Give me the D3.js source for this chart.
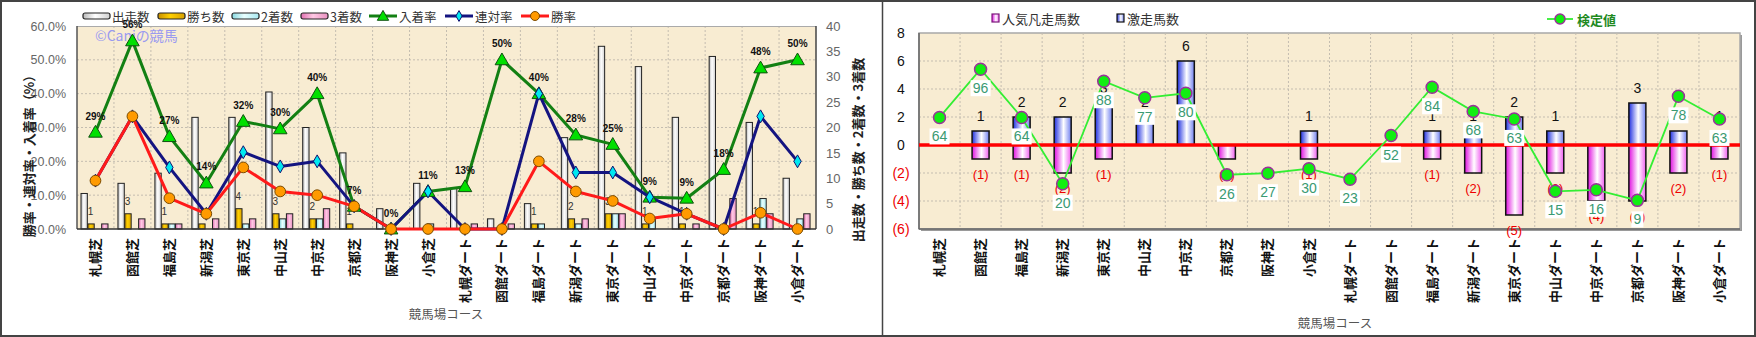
<!DOCTYPE html>
<html>
<head>
<meta charset="utf-8">
<script src="https://cdn.jsdelivr.net/npm/d3@7"></script>
<style>
body { margin: 0; background: #fff; }
svg { display: block; font-family: "Noto Sans CJK JP", "Liberation Sans", sans-serif; }
</style>
</head>
<body>
<div id="chart"></div>
<script>
// コース
var courses = ["札幌芝","函館芝","福島芝","新潟芝","東京芝","中山芝","中京芝","京都芝","阪神芝","小倉芝",
               "札幌ダート","函館ダート","福島ダート","新潟ダート","東京ダート","中山ダート","中京ダート","京都ダート","阪神ダート","小倉ダート"];

// 左グラフ: 件数
var starters = [7, 9, 11, 22, 22, 27, 20, 15, 4, 9, 8, 2, 5, 18, 36, 32, 22, 34, 21, 10];
var wins     = [1, 3, 1, 1, 4, 3, 2, 1, 0, 0, 0, 0, 1, 2, 3, 1, 1, 0, 1, 0];
var seconds  = [0, 0, 1, 0, 1, 2, 2, 0, 0, 1, 0, 0, 1, 1, 3, 2, 0, 0, 6, 2];
var thirds   = [1, 2, 1, 2, 2, 3, 4, 0, 0, 0, 1, 1, 0, 2, 3, 0, 1, 6, 3, 3];

// 左グラフ: 率(%)
var placeRate    = [28.6, 55.6, 27.3, 13.6, 31.8, 29.6, 40, 6.7, 0, 11.1, 12.5, 50, 40, 27.8, 25, 9.4, 9.1, 17.6, 47.6, 50];
var quinellaRate = [14.3, 33.3, 18.2, 4.5, 22.7, 18.5, 20, 6.7, 0, 11.1, 0, 0, 40, 16.7, 16.7, 9.4, 4.5, 0, 33.3, 20];
var winRate      = [14.3, 33.3, 9.1, 4.5, 18.2, 11.1, 10, 6.7, 0, 0, 0, 0, 20, 11.1, 8.3, 3.1, 4.5, 0, 4.8, 0];

// 右グラフ
var upsetCount = [0, 1, 2, 2, 3, 2, 6, 0, 0, 1, 0, 0, 1, 1, 2, 1, 0, 3, 1, 1];   // 激走馬数
var flopCount  = [0, 1, 1, 2, 1, 0, 0, 1, 0, 1, 0, 0, 1, 2, 5, 2, 4, 4, 2, 1];   // 人気凡走馬数
var testValue  = [64, 96, 64, 20, 88, 77, 80, 26, 27, 30, 23, 52, 84, 68, 63, 15, 16, 9, 78, 63]; // 検定値

var rateTicks  = [0, 10, 20, 30, 40, 50, 60];
var countTicks = [0, 5, 10, 15, 20, 25, 30, 35, 40];
var scoreTicks = [-6, -4, -2, 0, 2, 4, 6, 8];

var width = 1756, height = 337;
var bg_color = "#f8ecd2";
var grid_color = "#c4bdb0";

var svg = d3.select("#chart").append("svg")
	.attr("width", width)
	.attr("height", height);

var defs = svg.append("defs");
function grad(id, stops) {
	var g = defs.append("linearGradient").attr("id", id)
		.attr("x1", "0").attr("x2", "1").attr("y1", "0").attr("y2", "0");
	stops.forEach(function(s) {
		g.append("stop").attr("offset", s[0]).attr("stop-color", s[1]);
	});
}
grad("gRun",   [[0, "#b8b8b8"], [0.45, "#ffffff"], [1, "#d0d0d0"]]);
grad("gWin",   [[0, "#c89000"], [0.45, "#ffd000"], [1, "#d8a000"]]);
grad("gSec",   [[0, "#88d8e0"], [0.45, "#e8ffff"], [1, "#a8e8f0"]]);
grad("gThird", [[0, "#e070b0"], [0.45, "#ffc8e4"], [1, "#e890c0"]]);
grad("gUpset", [[0, "#2030e0"], [0.55, "#ffffff"], [1, "#7080f0"]]);
grad("gFlop",  [[0, "#e010e0"], [0.55, "#ffffff"], [1, "#f060f0"]]);

// 添字つきで 0 より大きいものだけ
function nonZero(arr) {
	return arr.map(function(v, i) { return {i: i, v: v}; }).filter(function(d) { return d.v > 0; });
}

// 外枠
svg.append("rect").attr("x", 1).attr("y", 1).attr("width", width - 2).attr("height", height - 2)
	.attr("fill", "none").attr("stroke", "#444").attr("stroke-width", 2);
svg.append("line").attr("x1", 882.5).attr("x2", 882.5).attr("y1", 0).attr("y2", height)
	.attr("stroke", "#444").attr("stroke-width", 1.5);

// ================= 左グラフ =================
var L = {x0: 77, x1: 816, y0: 26, y1: 229};
var xL = d3.scaleBand().domain(courses).range([L.x0, L.x1]);
var series = ["出走数", "勝ち数", "2着数", "3着数"];
var seriesData = [starters, wins, seconds, thirds];
var seriesGrad = ["gRun", "gWin", "gSec", "gThird"];
var xSub = d3.scaleBand().domain(series).range([4, 31]).paddingInner(0.08);
var yRate = d3.scaleLinear().domain([0, 60]).range([L.y1, L.y0]);
var yCount = d3.scaleLinear().domain([0, 40]).range([L.y1, L.y0]);

var left = svg.append("g");
left.append("rect").attr("x", L.x0).attr("y", L.y0).attr("width", L.x1 - L.x0).attr("height", L.y1 - L.y0)
	.attr("fill", bg_color);

left.append("g").selectAll("line")
	.data(rateTicks.slice(1, -1))
	.enter().append("line")
	.attr("x1", L.x0).attr("x2", L.x1)
	.attr("y1", function(d) { return yRate(d); }).attr("y2", function(d) { return yRate(d); })
	.attr("stroke", grid_color).attr("stroke-dasharray", "2,2");
left.append("g").selectAll("line")
	.data(courses.slice(1))
	.enter().append("line")
	.attr("x1", function(d) { return xL(d); }).attr("x2", function(d) { return xL(d); })
	.attr("y1", L.y0).attr("y2", L.y1)
	.attr("stroke", grid_color).attr("stroke-dasharray", "2,2");

left.append("text").attr("x", 95).attr("y", 41)
	.attr("font-size", 14).attr("fill", "#9a9af0")
	.text("©Caniの競馬");

// 棒
series.forEach(function(s, si) {
	left.append("g").selectAll("rect")
		.data(nonZero(seriesData[si]))
		.enter().append("rect")
		.attr("x", function(d) { return xL(courses[d.i]) + xSub(s); })
		.attr("y", function(d) { return yCount(d.v); })
		.attr("width", xSub.bandwidth())
		.attr("height", function(d) { return yCount(0) - yCount(d.v); })
		.attr("fill", "url(#" + seriesGrad[si] + ")")
		.attr("stroke", "#222").attr("stroke-width", 1);
});

// 勝ち数ラベル
left.append("g").selectAll("text")
	.data(nonZero(wins))
	.enter().append("text")
	.attr("x", function(d) { return xL(courses[d.i]) + 13.5; })
	.attr("y", function(d) { return yCount(d.v) - 8.5; })
	.attr("text-anchor", "middle")
	.attr("font-family", "Liberation Sans")
	.attr("font-size", 10).attr("fill", "#333")
	.text(function(d) { return d.v; });

// 軸線
left.append("line").attr("x1", L.x0).attr("x2", L.x1).attr("y1", L.y0 + 0.5).attr("y2", L.y0 + 0.5).attr("stroke", "#aaa");
left.append("line").attr("x1", L.x0).attr("x2", L.x0).attr("y1", L.y0).attr("y2", L.y1).attr("stroke", "#555").attr("stroke-width", 1.5);
left.append("line").attr("x1", L.x1).attr("x2", L.x1).attr("y1", L.y0).attr("y2", L.y1).attr("stroke", "#444").attr("stroke-width", 1.5);
left.append("line").attr("x1", L.x0).attr("x2", L.x1).attr("y1", L.y1).attr("y2", L.y1).attr("stroke", "#333").attr("stroke-width", 1.5);

// 折れ線
function cx(i) { return xL(courses[i]) + xL.bandwidth() / 2; }
var lineDefs = [
	{data: placeRate,    color: "#138013", fill: "#00e000", stroke: "#105010", sym: d3.symbolTriangle, size: 80},
	{data: quinellaRate, color: "#141480", fill: "#00e8f0", stroke: "#101070", sym: d3.symbolDiamond,  size: 48},
	{data: winRate,      color: "#ff1a1a", fill: "#ff9a00", stroke: "#7a4a00", sym: d3.symbolCircle,   size: 90}
];
lineDefs.forEach(function(ld) {
	left.append("path")
		.datum(ld.data)
		.attr("d", d3.line().x(function(d, i) { return cx(i); }).y(function(d) { return yRate(d); }))
		.attr("fill", "none").attr("stroke", ld.color).attr("stroke-width", 3)
		.attr("stroke-linejoin", "round");
});
lineDefs.forEach(function(ld) {
	left.append("g").selectAll("path")
		.data(ld.data)
		.enter().append("path")
		.attr("transform", function(d, i) { return "translate(" + cx(i) + "," + (yRate(d) + (ld.sym === d3.symbolTriangle ? 1 : 0)) + ")"; })
		.attr("d", d3.symbol().type(ld.sym).size(ld.size))
		.attr("fill", ld.fill).attr("stroke", ld.stroke).attr("stroke-width", 1);
});

// 入着率ラベル
left.append("g").selectAll("text")
	.data(placeRate)
	.enter().append("text")
	.attr("x", function(d, i) { return cx(i); })
	.attr("y", function(d) { return yRate(d) - 12.5; })
	.attr("text-anchor", "middle")
	.attr("font-family", "Liberation Sans").attr("font-weight", "bold")
	.attr("font-size", 10).attr("fill", "#111")
	.text(function(d) { return Math.round(d) + "%"; });

// 軸
var axL = left.append("g").attr("transform", "translate(" + L.x0 + ",0)")
	.call(d3.axisLeft(yRate).tickValues(rateTicks).tickSize(0).tickPadding(11)
		.tickFormat(function(d) { return d.toFixed(1) + "%"; }));
axL.select(".domain").remove();
axL.selectAll("text").attr("font-family", "Liberation Sans").attr("font-size", 12.5).attr("fill", "#666");

var axR = left.append("g").attr("transform", "translate(" + L.x1 + ",0)")
	.call(d3.axisRight(yCount).tickValues(countTicks).tickSize(0).tickPadding(10));
axR.select(".domain").remove();
axR.selectAll("text").attr("font-family", "Liberation Sans").attr("font-size", 13).attr("fill", "#666");

var axB = left.append("g").attr("transform", "translate(0," + L.y1 + ")")
	.call(d3.axisBottom(xL).tickSize(0));
axB.select(".domain").remove();
axB.selectAll("text")
	.attr("transform", "rotate(-90)")
	.attr("text-anchor", "end")
	.attr("x", -9).attr("y", 0).attr("dy", "0.35em")
	.attr("font-family", "Noto Sans CJK JP").attr("font-weight", "bold")
	.attr("font-size", 13).attr("fill", "#111");

left.append("text")
	.attr("transform", "translate(28,153) rotate(-90)")
	.attr("text-anchor", "middle").attr("dominant-baseline", "central")
	.attr("font-size", 13).attr("font-weight", "bold").attr("fill", "#222")
	.text("勝率・連対率・入着率（%）");
left.append("text")
	.attr("transform", "translate(857,150) rotate(-90)")
	.attr("text-anchor", "middle").attr("dominant-baseline", "central")
	.attr("font-size", 13).attr("font-weight", "bold").attr("fill", "#222")
	.text("出走数・勝ち数・2着数・3着数");
left.append("text")
	.attr("x", 446).attr("y", 313)
	.attr("text-anchor", "middle").attr("dominant-baseline", "central")
	.attr("font-size", 12.5).attr("fill", "#555")
	.text("競馬場コース");

// 凡例
var legL = [
	{name: "出走数", type: "bar", grad: "gRun", x: 83},
	{name: "勝ち数", type: "bar", grad: "gWin", x: 158},
	{name: "2着数", type: "bar", grad: "gSec", x: 232},
	{name: "3着数", type: "bar", grad: "gThird", x: 301},
	{name: "入着率", type: "line", ld: lineDefs[0], x: 369},
	{name: "連対率", type: "line", ld: lineDefs[1], x: 445},
	{name: "勝率", type: "line", ld: lineDefs[2], x: 521}
];
legL.forEach(function(it) {
	var g = left.append("g").attr("transform", "translate(" + it.x + ",16)");
	if (it.type === "bar") {
		g.append("rect").attr("x", 0).attr("y", -3).attr("width", 27).attr("height", 6).attr("rx", 2)
			.attr("fill", "url(#" + it.grad + ")").attr("stroke", "#222").attr("stroke-width", 1.2);
		g.append("text").attr("x", 29).attr("y", 0).attr("dominant-baseline", "central")
			.attr("font-size", 12.5).attr("fill", "#333").text(it.name);
	} else {
		g.append("line").attr("x1", 0).attr("x2", 28).attr("y1", 0).attr("y2", 0)
			.attr("stroke", it.ld.color).attr("stroke-width", 3);
		g.append("path").attr("transform", "translate(14," + (it.ld.sym === d3.symbolTriangle ? 1 : 0) + ")")
			.attr("d", d3.symbol().type(it.ld.sym).size(it.ld.size * 0.7))
			.attr("fill", it.ld.fill).attr("stroke", it.ld.stroke);
		g.append("text").attr("x", 30).attr("y", 0).attr("dominant-baseline", "central")
			.attr("font-size", 12.5).attr("fill", "#333").text(it.name);
	}
});

// ================= 右グラフ =================
var R = {x0: 919, x1: 1740, y0: 33, y1: 229};
var xR = d3.scaleBand().domain(courses).range([R.x0, R.x1]);
var yR = d3.scaleLinear().domain([-6, 8]).range([R.y1, R.y0]);
var yScore = d3.scaleLinear().domain([-10, 120]).range([R.y1, R.y0]);
var barW = 17;

var right = svg.append("g");
right.append("rect").attr("x", R.x0 + 2).attr("y", R.y0 + 2).attr("width", R.x1 - R.x0).attr("height", R.y1 - R.y0)
	.attr("fill", "#9a9a9a");
right.append("rect").attr("x", R.x0).attr("y", R.y0).attr("width", R.x1 - R.x0).attr("height", R.y1 - R.y0)
	.attr("fill", bg_color).attr("stroke", "#a8a8a8").attr("stroke-width", 1.5);

right.append("g").selectAll("line")
	.data(scoreTicks.slice(1, -1))
	.enter().append("line")
	.attr("x1", R.x0).attr("x2", R.x1)
	.attr("y1", function(d) { return yR(d); }).attr("y2", function(d) { return yR(d); })
	.attr("stroke", grid_color).attr("stroke-dasharray", "2,2");
right.append("g").selectAll("line")
	.data(courses.slice(1))
	.enter().append("line")
	.attr("x1", function(d) { return xR(d); }).attr("x2", function(d) { return xR(d); })
	.attr("y1", R.y0).attr("y2", R.y1)
	.attr("stroke", grid_color).attr("stroke-dasharray", "2,2");
right.append("line").attr("x1", R.x0).attr("x2", R.x0).attr("y1", R.y0).attr("y2", R.y1).attr("stroke", "#666").attr("stroke-width", 1.5);
right.append("line").attr("x1", R.x0).attr("x2", R.x1).attr("y1", R.y1).attr("y2", R.y1).attr("stroke", "#666").attr("stroke-width", 1.5);

function rx(i) { return xR(courses[i]) + (xR.bandwidth() - barW) / 2; }
function rc(i) { return xR(courses[i]) + xR.bandwidth() / 2; }

right.append("g").selectAll("rect")
	.data(nonZero(upsetCount))
	.enter().append("rect")
	.attr("x", function(d) { return rx(d.i); })
	.attr("y", function(d) { return yR(d.v); })
	.attr("width", barW)
	.attr("height", function(d) { return yR(0) - yR(d.v); })
	.attr("fill", "url(#gUpset)").attr("stroke", "#111").attr("stroke-width", 1.5);
right.append("g").selectAll("rect")
	.data(nonZero(flopCount))
	.enter().append("rect")
	.attr("x", function(d) { return rx(d.i); })
	.attr("y", yR(0))
	.attr("width", barW)
	.attr("height", function(d) { return yR(-d.v) - yR(0); })
	.attr("fill", "url(#gFlop)").attr("stroke", "#111").attr("stroke-width", 1.5);

right.append("line").attr("x1", R.x0).attr("x2", R.x1).attr("y1", yR(0)).attr("y2", yR(0))
	.attr("stroke", "#ff0000").attr("stroke-width", 3.5);

right.append("g").selectAll("text")
	.data(nonZero(upsetCount))
	.enter().append("text")
	.attr("x", function(d) { return rc(d.i); })
	.attr("y", function(d) { return yR(d.v) - 15; })
	.attr("text-anchor", "middle").attr("dominant-baseline", "central")
	.attr("font-family", "Liberation Sans").attr("font-size", 14).attr("fill", "#111")
	.text(function(d) { return d.v; });
right.append("g").selectAll("text")
	.data(nonZero(flopCount))
	.enter().append("text")
	.attr("x", function(d) { return rc(d.i); })
	.attr("y", function(d) { return yR(-d.v) + 15; })
	.attr("text-anchor", "middle").attr("dominant-baseline", "central")
	.attr("font-family", "Liberation Sans").attr("font-size", 13).attr("fill", "#ee0000")
	.text(function(d) { return "(" + d.v + ")"; });

right.append("path")
	.datum(testValue)
	.attr("d", d3.line().x(function(d, i) { return rc(i); }).y(function(d) { return yScore(d); }))
	.attr("fill", "none").attr("stroke", "#33ee33").attr("stroke-width", 1.8);
right.append("g").selectAll("circle")
	.data(testValue)
	.enter().append("circle")
	.attr("cx", function(d, i) { return rc(i); })
	.attr("cy", function(d) { return yScore(d); })
	.attr("r", 6)
	.attr("fill", "#11ee11").attr("stroke", "#993399").attr("stroke-width", 1.5);

var tv = right.append("g").selectAll("g")
	.data(testValue)
	.enter().append("g")
	.attr("transform", function(d, i) { return "translate(" + rc(i) + "," + (yScore(d) + 19) + ")"; });
tv.append("rect")
	.attr("x", function(d) { return -(String(d).length * 8 + 4) / 2; })
	.attr("y", -8)
	.attr("width", function(d) { return String(d).length * 8 + 4; })
	.attr("height", 16)
	.attr("fill", "#fff");
tv.append("text")
	.attr("text-anchor", "middle").attr("dominant-baseline", "central")
	.attr("font-family", "Liberation Sans").attr("font-size", 14).attr("fill", "#3a9a72")
	.text(function(d) { return d; });

var axRL = right.append("g").attr("transform", "translate(" + R.x0 + ",0)")
	.call(d3.axisLeft(yR).tickValues(scoreTicks).tickSize(0)
		.tickFormat(function(d) { return d < 0 ? "(" + (-d) + ")" : d; }));
axRL.select(".domain").remove();
axRL.selectAll("text")
	.attr("x", -18).attr("text-anchor", "middle")
	.attr("font-family", "Liberation Sans").attr("font-size", 14)
	.attr("fill", function(d) { return d < 0 ? "#ee0000" : "#111"; });

var axRB = right.append("g").attr("transform", "translate(0," + R.y1 + ")")
	.call(d3.axisBottom(xR).tickSize(0));
axRB.select(".domain").remove();
axRB.selectAll("text")
	.attr("transform", "rotate(-90)")
	.attr("text-anchor", "end")
	.attr("x", -9).attr("y", 0).attr("dy", "0.35em")
	.attr("font-family", "Noto Sans CJK JP").attr("font-weight", "bold")
	.attr("font-size", 13).attr("fill", "#111");

right.append("text")
	.attr("x", 1335).attr("y", 322)
	.attr("text-anchor", "middle").attr("dominant-baseline", "central")
	.attr("font-size", 12.5).attr("fill", "#555")
	.text("競馬場コース");

// 凡例
right.append("rect").attr("x", 992).attr("y", 14).attr("width", 7).attr("height", 8)
	.attr("fill", "url(#gFlop)").attr("stroke", "#7a1a7a").attr("stroke-width", 1.2);
right.append("text").attr("x", 1002).attr("y", 18).attr("dominant-baseline", "central")
	.attr("font-size", 13).attr("fill", "#333").text("人気凡走馬数");
right.append("rect").attr("x", 1117).attr("y", 14).attr("width", 7).attr("height", 8)
	.attr("fill", "url(#gUpset)").attr("stroke", "#111").attr("stroke-width", 1.2);
right.append("text").attr("x", 1127).attr("y", 18).attr("dominant-baseline", "central")
	.attr("font-size", 13).attr("fill", "#333").text("激走馬数");
right.append("line").attr("x1", 1547).attr("x2", 1573).attr("y1", 19).attr("y2", 19)
	.attr("stroke", "#33ee33").attr("stroke-width", 1.8);
right.append("circle").attr("cx", 1560).attr("cy", 19).attr("r", 5)
	.attr("fill", "#11ee11").attr("stroke", "#993399").attr("stroke-width", 1.5);
right.append("text").attr("x", 1577).attr("y", 19).attr("dominant-baseline", "central")
	.attr("font-size", 13).attr("font-weight", "bold").attr("fill", "#1f8a1f").text("検定値");
</script>
</body>
</html>
